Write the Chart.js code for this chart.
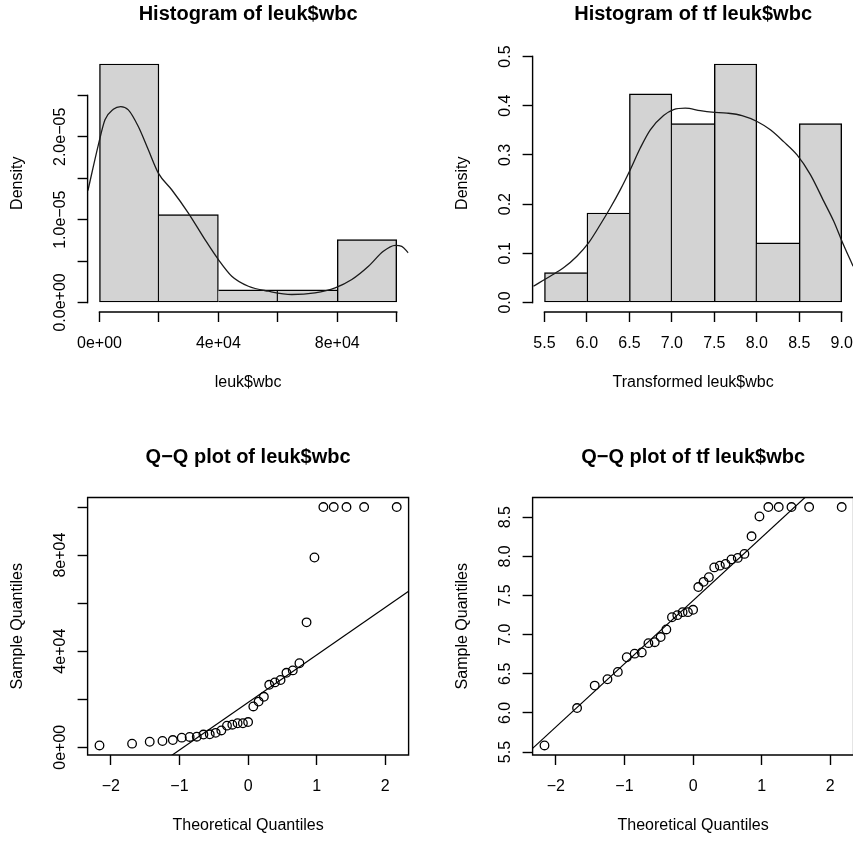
<!DOCTYPE html>
<html>
<head>
<meta charset="utf-8">
<script src="https://cdn.jsdelivr.net/npm/chart.js@4.4.1/dist/chart.umd.min.js"></script>
<style>
  html, body { margin: 0; padding: 0; background: #fff; width: 853px; height: 843px; overflow: hidden; }
  canvas { position: absolute; }
</style>
</head>
<body>
<canvas id="histRaw" width="427" height="421" style="left:0px;top:0px"></canvas>
<canvas id="histTf" width="427" height="421" style="left:445px;top:0px"></canvas>
<canvas id="qqRaw" width="427" height="421" style="left:0px;top:443px"></canvas>
<canvas id="qqTf" width="427" height="421" style="left:445px;top:443px"></canvas>
<script>
const FONT = "'Liberation Sans', Arial, Helvetica, sans-serif";

// histogram of leuk$wbc
const wbcBreaks = [0, 20000, 40000, 60000, 80000, 100000];
const wbcDensity = [2.879e-5, 1.061e-5, 1.52e-6, 1.52e-6, 7.58e-6];
const wbcDensX = [-3900, -400, 1850, 4650, 7130, 9700, 13060, 16430, 19800, 24300, 29900, 35500, 40000,
  44500, 50100, 56800, 64700, 72500, 79300, 84900, 90500, 95500, 99500, 101700, 103900];
const wbcDensY = [13.5e-6, 19.0e-6, 22.05e-6, 23.33e-6, 23.65e-6, 23.25e-6, 21.24e-6, 18.43e-6, 15.62e-6,
  13.61e-6, 10.8e-6, 7.59e-6, 5.18e-6, 3.17e-6, 1.96e-6, 1.36e-6, 0.96e-6, 1.17e-6, 1.77e-6, 2.77e-6,
  4.37e-6, 6.18e-6, 6.9e-6, 6.78e-6, 5.99e-6];
const wbcXTicks = [0, 20000, 40000, 60000, 80000, 100000];
const wbcXLabels = ['0e+00', '', '4e+04', '', '8e+04', ''];
const wbcYTicks = [0, 5e-6, 1e-5, 1.5e-5, 2e-5, 2.5e-5];
const wbcYLabels = ['0.0e+00', '', '1.0e\u221205', '', '2.0e\u221205', ''];

// histogram of transformed leuk$wbc
const tfBreaks = [5.5, 6.0, 6.5, 7.0, 7.5, 8.0, 8.5, 9.0];
const tfDensity = [0.0606, 0.1818, 0.4242, 0.3636, 0.4848, 0.1212, 0.3636];
const tfDensX = [5.37, 5.567, 5.724, 5.882, 6.019, 6.156, 6.274, 6.392, 6.51, 6.628, 6.746, 6.902, 7.02,
  7.158, 7.335, 7.473, 7.649, 7.826, 8.003, 8.16, 8.316, 8.474, 8.631, 8.788, 8.906, 9.004, 9.134];
const tfDensY = [0.0331, 0.0534, 0.0704, 0.094, 0.121, 0.158, 0.192, 0.229, 0.27, 0.314, 0.351, 0.38, 0.392,
  0.395, 0.39, 0.387, 0.385, 0.38, 0.368, 0.351, 0.327, 0.30, 0.26, 0.206, 0.165, 0.124, 0.0737];
const tfXTicks = [5.5, 6.0, 6.5, 7.0, 7.5, 8.0, 8.5, 9.0];
const tfXLabels = ['5.5', '6.0', '6.5', '7.0', '7.5', '8.0', '8.5', '9.0'];
const tfYTicks = [0, 0.1, 0.2, 0.3, 0.4, 0.5];
const tfYLabels = ['0.0', '0.1', '0.2', '0.3', '0.4', '0.5'];

// Q-Q plots
const theoQ = [-2.166, -1.691, -1.434, -1.248, -1.097, -0.967, -0.852, -0.748, -0.651, -0.559, -0.473,
  -0.390, -0.308, -0.230, -0.153, -0.076, 0, 0.076, 0.153, 0.230, 0.308, 0.390, 0.473, 0.559, 0.651,
  0.748, 0.852, 0.967, 1.097, 1.248, 1.434, 1.691, 2.166];
const wbcSorted = [750, 1500, 2300, 2600, 3000, 4000, 4300, 4400, 5300, 5400, 6000, 7000, 9000, 9400,
  10000, 10000, 10500, 17000, 19000, 21000, 26000, 27000, 28000, 31000, 32000, 35000, 52000, 79000,
  100000, 100000, 100000, 100000, 100000];
const tfSorted = [5.584, 6.062, 6.349, 6.430, 6.524, 6.711, 6.757, 6.772, 6.891, 6.903, 6.969, 7.066,
  7.222, 7.249, 7.287, 7.287, 7.317, 7.608, 7.674, 7.734, 7.859, 7.881, 7.902, 7.961, 7.980, 8.031,
  8.256, 8.510, 8.630, 8.630, 8.630, 8.630, 8.630];
const qqXTicks = [-2, -1, 0, 1, 2];
const qqXLabels = ['\u22122', '\u22121', '0', '1', '2'];
const qqWbcYTicks = [0, 20000, 40000, 60000, 80000, 100000];
const qqWbcYLabels = ['0e+00', '', '4e+04', '', '8e+04', ''];
const qqTfYTicks = [5.5, 6.0, 6.5, 7.0, 7.5, 8.0, 8.5];
const qqTfYLabels = ['5.5', '6.0', '6.5', '7.0', '7.5', '8.0', '8.5'];

// panel geometry (same in every canvas)
const CANVAS_W = 427, CANVAS_H = 421;
const PLOT_LEFT = 87.6, PLOT_TOP = 54.5, PLOT_W = 321, PLOT_H = 257.5;
const LW = 1.4;

Chart.defaults.font.family = FONT;
Chart.defaults.color = '#000';

// R pads the data range by 4% on each side
const widen = (lo, hi) => [lo - 0.04 * (hi - lo), hi + 0.04 * (hi - lo)];

function quantile(arr, p) {
  const h = (arr.length - 1) * p, lo = Math.floor(h);
  return arr[lo] + (h - lo) * ((arr[lo + 1] ?? arr[lo]) - arr[lo]);
}
// qqline: through the first and third quartiles
function qqLine(sample, xLim) {
  const z = 0.6745;
  const q1 = quantile(sample, 0.25), q3 = quantile(sample, 0.75);
  const slope = (q3 - q1) / (2 * z);
  const icpt = q1 + z * slope;
  return xLim.map(x => ({ x, y: icpt + slope * x }));
}

const measureCtx = document.createElement('canvas').getContext('2d');
function widest(labels) {
  measureCtx.font = '16px ' + FONT;
  return Math.max(...labels.map(t => measureCtx.measureText(t).width));
}

const tickGrid = {
  display: true, drawOnChartArea: false, drawTicks: true, tickLength: 10,
  tickColor: '#000', tickWidth: LW, offset: false
};

function xScale(lim, ticks, labels, title) {
  return {
    type: 'linear', position: 'bottom', min: lim[0], max: lim[1], offset: false,
    afterBuildTicks: s => { s.ticks = ticks.map(v => ({ value: v })); },
    afterFit: s => { s.height = CANVAS_H - PLOT_TOP - PLOT_H; },
    grid: tickGrid,
    border: { display: false },
    ticks: { autoSkip: false, maxRotation: 0, padding: 12.4, font: { size: 16 }, color: '#000',
      callback: (v, i) => labels[i] },
    title: { display: true, text: title, font: { size: 16 }, color: '#000', padding: { top: 0, bottom: 28.4 } }
  };
}

function yScale(lim, ticks, labels, title) {
  return {
    type: 'linear', position: 'left', min: lim[0], max: lim[1], beginAtZero: false,
    afterBuildTicks: s => { s.ticks = ticks.map(v => ({ value: v })); },
    afterFit: s => { s.width = PLOT_LEFT; },
    grid: tickGrid,
    border: { display: false },
    ticks: { autoSkip: false, minRotation: 90, maxRotation: 90, crossAlign: 'center',
      padding: 17 - widest(labels) / 2, font: { size: 16 }, color: '#000',
      callback: (v, i) => labels[i] },
    title: { display: true, text: title, font: { size: 16 }, color: '#000', padding: { top: 8.4, bottom: 0 } }
  };
}

// axis lines the way R draws them: from first to last tick, plus a box for the Q-Q plots
const rAxes = {
  id: 'rAxes',
  afterDatasetsDraw(chart, args, opts) {
    const { ctx, chartArea: a, scales: { x, y } } = chart;
    const xt = x.ticks, yt = y.ticks;
    ctx.save();
    ctx.strokeStyle = '#000';
    ctx.lineWidth = LW;
    ctx.lineCap = 'square';
    ctx.beginPath();
    ctx.moveTo(x.getPixelForValue(xt[0].value), a.bottom);
    ctx.lineTo(x.getPixelForValue(xt[xt.length - 1].value), a.bottom);
    ctx.moveTo(a.left, y.getPixelForValue(yt[0].value));
    ctx.lineTo(a.left, y.getPixelForValue(yt[yt.length - 1].value));
    if (opts.box) ctx.rect(a.left, a.top, a.width, a.height);
    ctx.stroke();
    ctx.restore();
  }
};

function baseOptions(title, scales, box) {
  return {
    responsive: false,
    animation: false,
    events: [],
    layout: { autoPadding: false, padding: { left: 0, top: 0, bottom: 0, right: CANVAS_W - PLOT_LEFT - PLOT_W } },
    plugins: {
      legend: { display: false },
      tooltip: { enabled: false },
      title: {
        display: true, text: title, fullSize: false, color: '#000',
        font: { size: 20, weight: 'bold' },
        padding: { top: 2, bottom: PLOT_TOP - 2 - 20 * 1.2 }
      },
      rAxes: { box }
    },
    scales
  };
}

function histChart(id, breaks, density, densX, densY, xTicks, xLabels, yTicks, yLabels, title, xTitle) {
  const bars = density.map((d, i) => ({ x: (breaks[i] + breaks[i + 1]) / 2, y: d }));
  const curve = densX.map((x, i) => ({ x, y: densY[i] }));
  const last = bars.length - 1;
  // a shared edge is drawn once, by the taller of the two neighbouring bars
  const edges = c => {
    const i = c.dataIndex;
    return {
      top: LW, bottom: LW,
      left: (i === 0 || density[i - 1] < density[i]) ? LW : 0,
      right: (i === last || density[i + 1] <= density[i]) ? LW : 0
    };
  };
  new Chart(document.getElementById(id), {
    type: 'bar',
    data: {
      datasets: [
        { type: 'line', data: curve, order: 0, borderColor: '#1a1a1a', borderWidth: 1.3, pointRadius: 0,
          cubicInterpolationMode: 'monotone', fill: false },
        { type: 'bar', data: bars, order: 1, backgroundColor: '#d3d3d3', borderColor: '#000',
          borderWidth: edges, borderSkipped: false, barPercentage: 1, categoryPercentage: 1 }
      ]
    },
    options: baseOptions(title, {
      x: xScale(widen(breaks[0], breaks[breaks.length - 1]), xTicks, xLabels, xTitle),
      y: yScale(widen(0, Math.max(...density)), yTicks, yLabels, 'Density')
    }, false),
    plugins: [rAxes]
  });
}

function qqChart(id, sample, yTicks, yLabels, title) {
  const xLim = widen(theoQ[0], theoQ[theoQ.length - 1]);
  const yLim = widen(sample[0], sample[sample.length - 1]);
  new Chart(document.getElementById(id), {
    type: 'scatter',
    data: {
      datasets: [
        { type: 'line', data: qqLine(sample, xLim), borderColor: '#000', borderWidth: 1.2, pointRadius: 0, fill: false },
        { type: 'scatter', data: theoQ.map((q, i) => ({ x: q, y: sample[i] })), pointRadius: 4.3,
          pointBorderWidth: 1.3, pointBorderColor: '#000', pointBackgroundColor: 'rgba(0,0,0,0)' }
      ]
    },
    options: baseOptions(title, {
      x: xScale(xLim, qqXTicks, qqXLabels, 'Theoretical Quantiles'),
      y: yScale(yLim, yTicks, yLabels, 'Sample Quantiles')
    }, true),
    plugins: [rAxes]
  });
}

histChart('histRaw', wbcBreaks, wbcDensity, wbcDensX, wbcDensY, wbcXTicks, wbcXLabels, wbcYTicks, wbcYLabels,
  'Histogram of leuk$wbc', 'leuk$wbc');
histChart('histTf', tfBreaks, tfDensity, tfDensX, tfDensY, tfXTicks, tfXLabels, tfYTicks, tfYLabels,
  'Histogram of tf leuk$wbc', 'Transformed leuk$wbc');
qqChart('qqRaw', wbcSorted, qqWbcYTicks, qqWbcYLabels, 'Q\u2212Q plot of leuk$wbc');
qqChart('qqTf', tfSorted, qqTfYTicks, qqTfYLabels, 'Q\u2212Q plot of tf leuk$wbc');
</script>
</body>
</html>
